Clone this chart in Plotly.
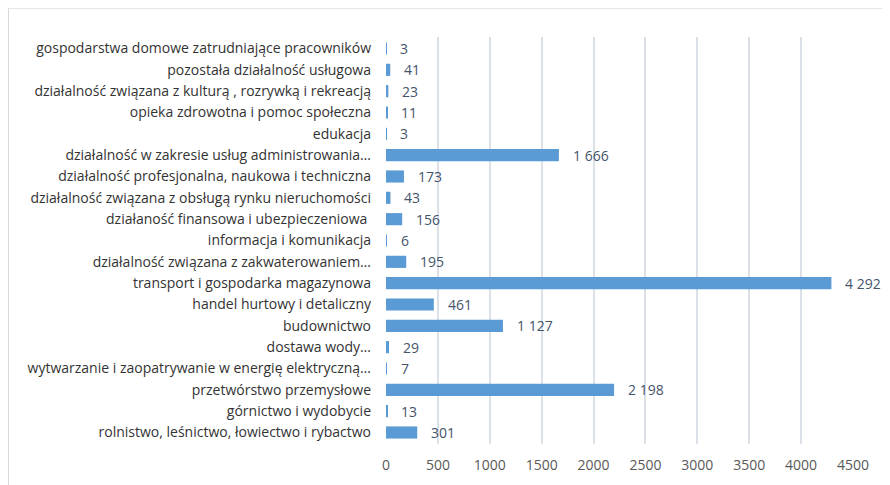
import plotly.graph_objects as go

# Categories listed bottom -> top, as drawn in the chart
CATEGORIES = [
    "rolnistwo, leśnictwo, łowiectwo i rybactwo",
    "górnictwo i wydobycie",
    "przetwórstwo przemysłowe",
    "wytwarzanie i zaopatrywanie w energię elektryczną…",
    "dostawa wody…",
    "budownictwo",
    "handel hurtowy i detaliczny",
    "transport i gospodarka magazynowa",
    "działalność związana z zakwaterowaniem…",
    "informacja i komunikacja",
    "działaność finansowa i ubezpieczeniowa ",
    "działalność związana z obsługą rynku nieruchomości",
    "działalność profesjonalna, naukowa i techniczna",
    "działalność w zakresie usług administrowania…",
    "edukacja",
    "opieka zdrowotna i pomoc społeczna",
    "działalność związana z kulturą , rozrywką i rekreacją",
    "pozostała działalność usługowa",
    "gospodarstwa domowe zatrudniające pracowników",
]
VALUES = [301, 13, 2198, 7, 29, 1127, 461, 4292, 195, 6, 156, 43, 173, 1666, 3, 11, 23, 41, 3]
X_TICKS = [0, 500, 1000, 1500, 2000, 2500, 3000, 3500, 4000, 4500]

COLORS = {
    'bar': '#5b9bd5',
    'grid': '#dce0e8',
    'border': '#d9d9d9',
    'cat_text': '#333333',
    'tick_text': '#595959',
    'label_text': '#44546a',
}
FONT = "Open Sans"

# plot area in figure pixels (the page body adds an 8px offset)
PLOT_L, PLOT_W = 378, 467
PLOT_T, PLOT_H = 29.3, 406.4


def fmt(v):
    return f"{v:,}".replace(",", " ")


fig = go.Figure()
fig.add_trace(
    go.Bar(
        y=CATEGORIES,
        x=VALUES,
        orientation='h',
        width=0.57,
        marker=dict(color=COLORS['bar'], line=dict(width=0)),
        hoverinfo='x+y',
    )
)

# data labels, placed a bit right of each bar end
for cat, v in zip(CATEGORIES, VALUES):
    fig.add_annotation(
        x=v, y=cat, xref='x', yref='y',
        text=fmt(v), showarrow=False,
        xanchor='left', xshift=12,
        font=dict(family=FONT, size=14, color=COLORS['label_text']),
    )

# outer chart border (cropped on the right/bottom in the original)
fig.add_shape(
    type='rect', xref='paper', yref='paper',
    x0=(0.5 - PLOT_L) / PLOT_W, x1=1.3,
    y0=-0.3, y1=1 + (PLOT_T - 0.5) / PLOT_H,
    line=dict(color=COLORS['border'], width=1),
    fillcolor='rgba(0,0,0,0)', layer='below',
)

fig.update_layout(
    width=890, height=485,
    margin=dict(l=PLOT_L, r=890 - PLOT_L - PLOT_W, t=PLOT_T, b=485 - PLOT_T - PLOT_H),
    paper_bgcolor='white',
    plot_bgcolor='white',
    showlegend=False,
    font=dict(family=FONT, color=COLORS['tick_text']),
    xaxis=dict(
        range=[0, 4500],
        tickvals=X_TICKS,
        ticktext=[str(t) for t in X_TICKS],
        showgrid=True,
        gridcolor=COLORS['grid'],
        gridwidth=1.5,
        zeroline=False,
        showline=False,
        ticks='',
        ticklabelstandoff=11,
        tickfont=dict(family=FONT, size=14, color=COLORS['tick_text']),
        fixedrange=True,
    ),
    yaxis=dict(
        categoryorder='array',
        categoryarray=CATEGORIES,
        showgrid=False,
        zeroline=False,
        showline=False,
        ticks='',
        ticklabelstandoff=14,
        tickfont=dict(family=FONT, size=14, color=COLORS['cat_text']),
        fixedrange=True,
    ),
)

fig.write_html("out.html")
